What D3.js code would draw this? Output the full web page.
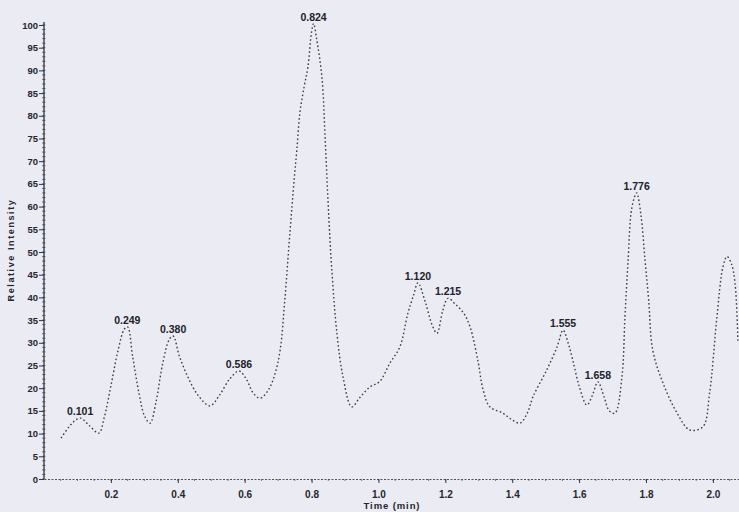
<!DOCTYPE html>
<html>
<head>
<meta charset="utf-8">
<script src="https://cdn.jsdelivr.net/npm/d3@7"></script>
<style>
  html, body { margin: 0; padding: 0; background: #eaebf3; }
  svg { display: block; }
</style>
</head>
<body>
<svg id="chart" width="739" height="512"></svg>
<script>
// ---- Data ----
const times = [0.051,0.075,0.095,0.110,0.135,0.164,0.180,0.200,0.222,0.240,0.250,0.265,0.285,0.300,0.317,0.335,0.355,0.375,0.386,0.405,0.430,0.460,0.496,0.525,0.555,0.583,0.605,0.625,0.646,0.670,0.690,0.706,0.720,0.735,0.748,0.756,0.765,0.778,0.789,0.800,0.806,0.815,0.831,0.840,0.849,0.860,0.876,0.894,0.920,0.945,0.975,1.004,1.034,1.064,1.088,1.105,1.118,1.140,1.160,1.175,1.192,1.208,1.230,1.255,1.274,1.297,1.313,1.333,1.372,1.400,1.423,1.445,1.462,1.503,1.534,1.552,1.567,1.581,1.600,1.623,1.640,1.656,1.675,1.690,1.707,1.728,1.737,1.746,1.758,1.772,1.785,1.797,1.808,1.820,1.851,1.893,1.931,1.970,1.990,2.012,2.030,2.042,2.055,2.066,2.075];
const intensities = [9.0,11.5,13.0,13.4,11.8,10.1,13.5,20.5,28.5,33.0,33.5,27.0,18.5,14.0,12.3,17.0,25.5,30.8,31.5,27.0,22.5,18.5,16.1,18.5,22.0,23.8,22.0,19.0,17.8,19.5,23.0,28.4,39.4,54.0,66.0,72.5,80.6,86.5,90.7,98.5,100.3,97.0,88.5,76.0,61.5,46.7,32.0,22.5,15.9,18.0,20.3,21.5,25.5,29.1,36.5,40.5,43.2,39.0,34.0,32.1,37.0,39.8,38.5,36.5,33.5,26.2,19.6,15.9,14.5,13.0,12.3,14.5,18.1,24.0,29.1,32.8,30.0,26.2,20.5,16.3,18.5,21.4,18.0,15.0,14.5,22.5,35.7,47.6,59.9,63.0,58.0,48.2,39.4,28.4,21.1,14.5,10.8,11.5,18.9,35.7,46.7,49.0,47.5,43.2,30.0];

const peakLabels = ["0.101","0.249","0.380","0.586","0.824","1.120","1.215","1.555","1.658","1.776"];
const peakTimes  = [0.108, 0.249, 0.386, 0.583, 0.806, 1.118, 1.208, 1.552, 1.656, 1.772];
const peakValues = [13.4, 33.5, 31.5, 23.8, 100.3, 43.2, 39.8, 32.8, 21.4, 63.0];

const xTickValues = [0.2,0.4,0.6,0.8,1.0,1.2,1.4,1.6,1.8,2.0];
const yTickValues = [0,5,10,15,20,25,30,35,40,45,50,55,60,65,70,75,80,85,90,95,100];
const xTitle = "Time (min)";
const yTitle = "Relative Intensity";

// ---- Drawing ----
const svg = d3.select("#chart");

const x = d3.scaleLinear().domain([0, 2.078]).range([44, 739]);
const y = d3.scaleLinear().domain([0, 100]).range([479, 25]);

const axisColor = "#34343e";
const font = "'Liberation Sans', Arial, sans-serif";

// minor y ticks
const yMinor = d3.range(0, 101, 1);
svg.append("g").selectAll("line").data(yMinor).join("line")
  .attr("x1", x(0) - 2).attr("x2", x(0) + 1.5)
  .attr("y1", d => y(d)).attr("y2", d => y(d))
  .attr("stroke", "#555a66").attr("stroke-width", 0.8);

// minor x ticks
const xMinor = d3.range(0.05, 2.08, 0.05);
svg.append("g").selectAll("line").data(xMinor).join("line")
  .attr("x1", d => x(d)).attr("x2", d => x(d))
  .attr("y1", y(0)).attr("y2", y(0) + 2)
  .attr("stroke", "#555a66").attr("stroke-width", 0.8);

// Y axis
const yAxis = svg.append("g")
  .attr("transform", `translate(${x(0)},0)`)
  .call(d3.axisLeft(y).tickValues(yTickValues).tickSize(5).tickPadding(1).tickSizeOuter(0));
yAxis.select(".domain").attr("stroke", axisColor).attr("stroke-width", 1.3)
  .attr("d", `M0,${y(0)}V${y(100) - 3}`);
yAxis.selectAll(".tick line").attr("stroke", axisColor).attr("stroke-width", 1);
yAxis.selectAll(".tick text").attr("font-family", font).attr("font-size", 9.5)
  .attr("font-weight", "bold").attr("fill", "#26262e");

// X axis
const xAxis = svg.append("g")
  .attr("transform", `translate(0,${y(0)})`)
  .call(d3.axisBottom(x).tickValues(xTickValues).tickFormat(d3.format(".1f"))
    .tickSize(4).tickPadding(8).tickSizeOuter(0));
xAxis.select(".domain").attr("stroke", "#50505c").attr("stroke-width", 1)
  .attr("stroke-dasharray", "2,1.5");
xAxis.selectAll(".tick line").attr("stroke", axisColor).attr("stroke-width", 1);
xAxis.selectAll(".tick text").attr("font-family", font).attr("font-size", 10)
  .attr("font-weight", "bold").attr("fill", "#26262e");

// titles
svg.append("text")
  .attr("x", 392).attr("y", 509)
  .attr("text-anchor", "middle")
  .attr("font-family", font).attr("font-size", 9.5).attr("font-weight", "bold")
  .attr("letter-spacing", 0.9).attr("fill", "#26262e")
  .text(xTitle);
svg.append("text")
  .attr("transform", "translate(14,250) rotate(-90)")
  .attr("text-anchor", "middle")
  .attr("font-family", font).attr("font-size", 9).attr("font-weight", "bold")
  .attr("letter-spacing", 1.6).attr("fill", "#26262e")
  .text(yTitle);

// chromatogram trace
const pts = times.map((t, i) => [t, intensities[i]]);
const line = d3.line().x(d => x(d[0])).y(d => y(d[1])).curve(d3.curveCatmullRom.alpha(0.5));
svg.append("path")
  .attr("d", line(pts))
  .attr("fill", "none")
  .attr("stroke", "#3e3e48")
  .attr("stroke-width", 1.4)
  .attr("stroke-dasharray", "1.6,2.4");

// peak labels
svg.append("g").selectAll("text").data(peakLabels).join("text")
  .attr("x", (d, i) => x(peakTimes[i]))
  .attr("y", (d, i) => y(peakValues[i]) - 3)
  .attr("text-anchor", "middle")
  .attr("font-family", font).attr("font-size", 10.5).attr("font-weight", "bold")
  .attr("fill", "#22222a")
  .text(d => d);
</script>
</body>
</html>
